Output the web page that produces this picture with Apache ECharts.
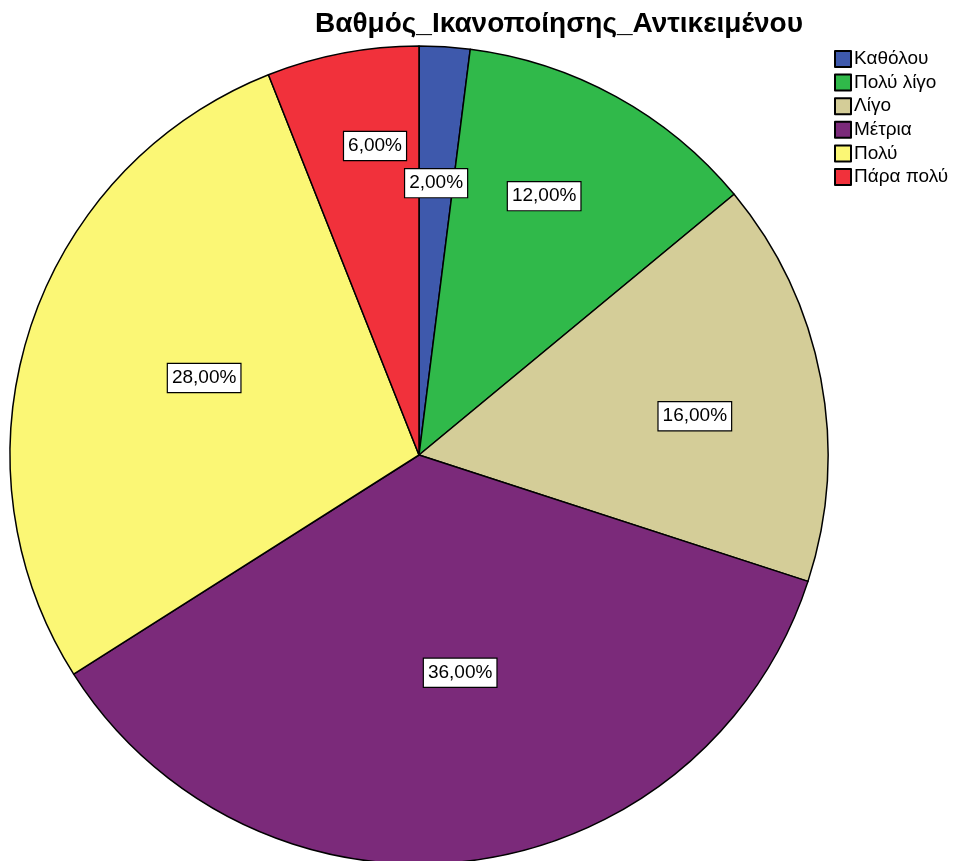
<!DOCTYPE html>
<html>
<head>
<meta charset="utf-8">
<script src="https://cdn.jsdelivr.net/npm/echarts@6/dist/echarts.min.js"></script>
<style>
html,body{margin:0;padding:0;background:#fff;}
#main{width:958px;height:861px;}
</style>
</head>
<body>
<div id="main"></div>
<script>
var title = 'Βαθμός_Ικανοποίησης_Αντικειμένου';
var categories = ['Καθόλου', 'Πολύ λίγο', 'Λίγο', 'Μέτρια', 'Πολύ', 'Πάρα πολύ'];
var percents = [2, 12, 16, 36, 28, 6];
var colors = ['#3E59AC', '#30B94A', '#D4CD98', '#7B2A7A', '#FBF775', '#F1313B'];
// label placement: share of radius, and turn (degrees) off the slice bisector
var labelDist = [0.666, 0.703, 0.681, 0.542, 0.558, 0.763];
var labelTurn = [0, -3, 2.8, -3.5, 1.7, 2.7];

var cx = 419, cy = 455, R = 409;

var chart = echarts.init(document.getElementById('main'));
var option = {
    backgroundColor: '#fff',
    animation: false,
    title: {
        text: title,
        left: 554,
        textAlign: 'center',
        top: 5,
        textStyle: {
            fontFamily: 'Liberation Sans',
            fontSize: 28,
            fontWeight: 'bold',
            color: '#000'
        }
    },
    legend: {
        orient: 'vertical',
        left: 834,
        top: 49.5,
        icon: 'rect',
        itemWidth: 16,
        itemHeight: 16,
        itemGap: 4.6,
        padding: 0,
        selectedMode: false,
        textStyle: {
            fontFamily: 'Liberation Sans',
            fontSize: 19,
            lineHeight: 19,
            color: '#000',
            padding: [0, 0, 0, -2]
        },
        data: categories
    },
    series: [{
        type: 'pie',
        center: [cx, cy],
        radius: [0, R],
        startAngle: 90,
        clockwise: true,
        avoidLabelOverlap: false,
        itemStyle: {
            borderColor: '#000',
            borderWidth: 1.5
        },
        label: {
            show: true,
            position: 'inside',
            formatter: function (p) {
                return p.value.toFixed(2).replace('.', ',') + '%';
            },
            fontFamily: 'Liberation Sans',
            fontSize: 19,
            color: '#000',
            backgroundColor: '#fff',
            borderColor: '#000',
            borderWidth: 1.2,
            padding: [5, 4, 4, 4]
        },
        labelLayout: function (p) {
            var r = p.labelRect;
            var lx = r.x + r.width / 2, ly = r.y + r.height / 2;
            var a = Math.atan2(lx - cx, cy - ly) + labelTurn[p.dataIndex] * Math.PI / 180;
            var d = labelDist[p.dataIndex] * R;
            var tx = cx + d * Math.sin(a), ty = cy - d * Math.cos(a);
            return { dx: tx - lx, dy: ty - ly };
        },
        labelLine: { show: false },
        emphasis: { disabled: true },
        data: categories.map(function (c, i) {
            return { name: c, value: percents[i], itemStyle: { color: colors[i] } };
        })
    }]
};
chart.setOption(option);
window.onresize = function () { chart.resize(); };
</script>
</body>
</html>
